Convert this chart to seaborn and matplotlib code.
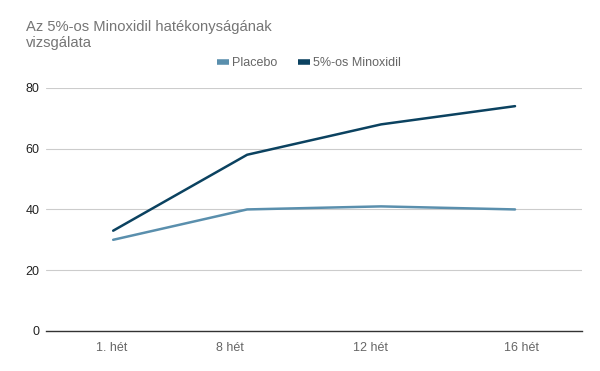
import pandas as pd
import matplotlib
matplotlib.use("Agg")
import matplotlib.pyplot as plt
import matplotlib.transforms as mtransforms
import seaborn as sns
from matplotlib.lines import Line2D

# data
weeks = ["1. hét", "8 hét", "12 hét", "16 hét"]
placebo = [30, 40, 41, 40]
minoxidil = [33, 58, 68, 74]
series_names = ["Placebo", "5%-os Minoxidil"]
colors = ["#5a8fad", "#0b4260"]

df = pd.DataFrame({
    "week": weeks * 2,
    "value": placebo + minoxidil,
    "series": [series_names[0]] * 4 + [series_names[1]] * 4,
})

sns.set_style("white")
plt.rcParams["font.family"] = ["Liberation Sans", "DejaVu Sans"]

fig = plt.figure(figsize=(6, 3.71), dpi=100)
ax = fig.add_axes([0.077, 0.108, 0.893, 0.655])

sns.lineplot(data=df, x="week", y="value", hue="series", palette=colors,
             sort=False, linewidth=1.8, ax=ax, legend=False)

ax.set_xlim(-0.5, 3.5)
ax.set_ylim(0, 80)
ax.set_yticks([0, 20, 40, 60, 80])
ax.yaxis.grid(True, color="#cccccc", linewidth=0.8)
ax.set_axisbelow(True)
for s in ["top", "right", "left"]:
    ax.spines[s].set_visible(False)
ax.spines["bottom"].set_color("#333333")
ax.spines["bottom"].set_linewidth(1.0)
ax.set_xlabel("")
ax.set_ylabel("")
ax.tick_params(axis="y", length=0, labelsize=9, labelcolor="#222222", pad=5)
ax.tick_params(axis="x", length=0, labelsize=9, labelcolor="#666666", pad=8)

# sheets-style label placement (slightly off the data points)
shifts = [-1, -17, -11, 6]
for lab, dx in zip(ax.get_xticklabels(), shifts):
    lab.set_transform(lab.get_transform() +
                      mtransforms.ScaledTranslation(dx / 100, 0, fig.dpi_scale_trans))

fig.text(0.043, 0.947, "Az 5%-os Minoxidil hatékonyságának\nvizsgálata",
         fontsize=10.6, color="#757575", va="top", ha="left", linespacing=1.25)

handles = [Line2D([0], [0], color=c, linewidth=4, solid_capstyle="butt") for c in colors]
fig.legend(handles, series_names, loc="center", bbox_to_anchor=(0.515, 0.83),
           ncol=2, frameon=False, fontsize=9, handlelength=1.0,
           columnspacing=1.6, handletextpad=0.25, labelcolor="#666666")

fig.savefig("out.png", dpi=100)
